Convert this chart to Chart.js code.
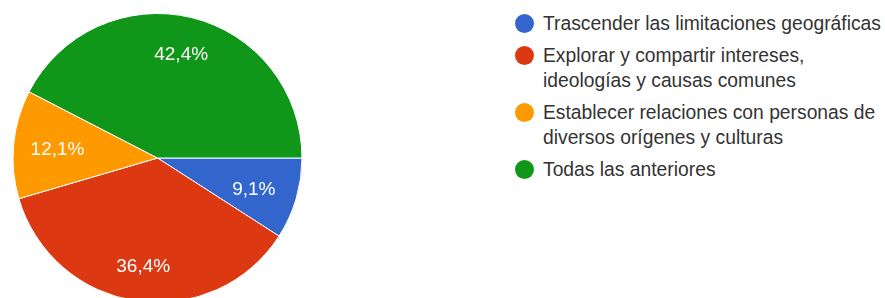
<!DOCTYPE html>
<html>
<head>
<meta charset="utf-8">
<script src="https://cdn.jsdelivr.net/npm/chart.js@4.4.1/dist/chart.umd.min.js"></script>
<style>
  html, body { margin: 0; padding: 0; background: #fff; }
  #wrap { position: relative; width: 885px; height: 298px; overflow: hidden; }
  #pie { position: absolute; left: 0; top: 0; }
  #legend { position: absolute; left: 515px; top: 11px; font-family: Arial, "Liberation Sans", sans-serif; font-size: 19.3px; color: #333; }
  .item { position: relative; padding-left: 28px; line-height: 25px; margin-bottom: 7px; white-space: nowrap; }
  .dot { position: absolute; left: 0; top: 2.5px; width: 19px; height: 19px; border-radius: 50%; }
</style>
</head>
<body>
<div id="wrap">
  <canvas id="pie" width="320" height="310"></canvas>
  <div id="legend"></div>
</div>
<script>
const labels = [
  ["Trascender las limitaciones geográficas"],
  ["Explorar y compartir intereses,", "ideologías y causas comunes"],
  ["Establecer relaciones con personas de", "diversos orígenes y culturas"],
  ["Todas las anteriores"],
];
const responses = [3, 12, 4, 14];
const colors = ["#3366cc", "#dc3912", "#ff9900", "#109618"];

// percentage text inside each slice, google forms style
const sliceLabels = {
  id: "sliceLabels",
  afterDatasetsDraw(chart) {
    const ctx = chart.ctx;
    const data = chart.data.datasets[0].data;
    const total = data.reduce((a, b) => a + b, 0);
    chart.getDatasetMeta(0).data.forEach((arc, i) => {
      const { x, y, startAngle, endAngle, outerRadius } = arc.getProps(["x", "y", "startAngle", "endAngle", "outerRadius"], true);
      const mid = (startAngle + endAngle) / 2;
      const txt = ((data[i] / total) * 100).toFixed(1).replace(".", ",") + "%";
      // google pushes labels a bit further out vertically than sideways
      const lx = x + Math.cos(mid) * outerRadius * 0.695;
      const ly = y + Math.sin(mid) * outerRadius * 0.745;
      ctx.save();
      ctx.fillStyle = "#fff";
      ctx.font = "19px Arial, 'Liberation Sans', sans-serif";
      ctx.textAlign = "center";
      ctx.textBaseline = "alphabetic";
      ctx.fillText(txt, lx, ly + 7);
      ctx.restore();
    });
  },
};

new Chart(document.getElementById("pie"), {
  type: "pie",
  data: {
    labels,
    datasets: [
      {
        data: responses,
        backgroundColor: colors,
        borderColor: "#fff",
        borderWidth: 1,
      },
    ],
  },
  options: {
    responsive: false,
    animation: false,
    rotation: 90,
    layout: { padding: { left: 12.5, top: 13, right: 17.5, bottom: 7 } },
    plugins: {
      legend: { display: false },
      tooltip: { enabled: false },
    },
  },
  plugins: [sliceLabels],
});

const legend = document.getElementById("legend");
labels.forEach((lines, i) => {
  const item = document.createElement("div");
  item.className = "item";
  const dot = document.createElement("span");
  dot.className = "dot";
  dot.style.background = colors[i];
  item.appendChild(dot);
  lines.forEach((line, j) => {
    if (j > 0) item.appendChild(document.createElement("br"));
    item.appendChild(document.createTextNode(line));
  });
  legend.appendChild(item);
});
</script>
</body>
</html>
